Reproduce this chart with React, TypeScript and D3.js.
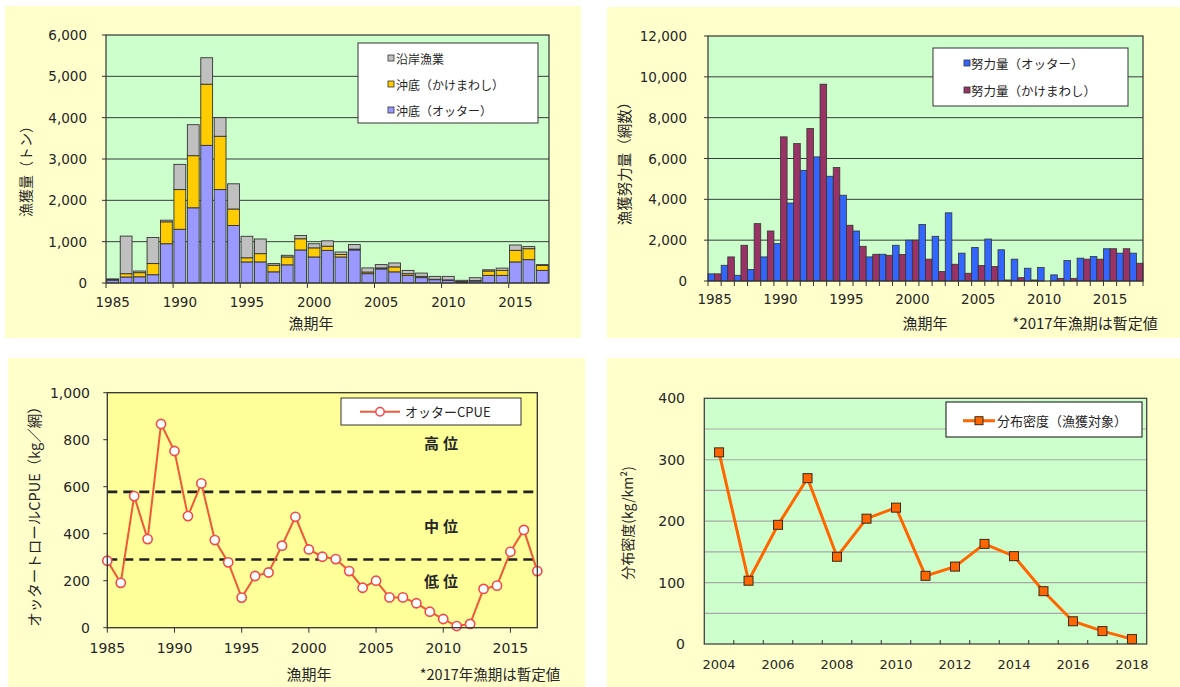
import React from 'react';
import * as d3 from 'd3';

const FONT = "'DejaVu Sans', 'Noto Sans CJK JP', sans-serif";
const JP = "'Noto Sans CJK JP', sans-serif";
const INK = '#262626';

// 漁獲量 (トン), 1985–2017 漁期年
const catchYears = [
  1985, 1986, 1987, 1988, 1989, 1990, 1991, 1992, 1993, 1994, 1995,
  1996, 1997, 1998, 1999, 2000, 2001, 2002, 2003, 2004, 2005, 2006,
  2007, 2008, 2009, 2010, 2011, 2012, 2013, 2014, 2015, 2016, 2017,
];
const catchOtter = [
  70, 145, 150, 200, 950, 1300, 1820, 3330, 2260, 1390, 510,
  510, 270, 440, 800, 630, 790, 630, 800, 225, 340, 270,
  185, 130, 80, 65, 25, 48, 185, 185, 510, 565, 305,
];
const catchKake = [
  10, 80, 100, 270, 530, 960, 1260, 1480, 1290, 400, 100,
  200, 160, 190, 270, 220, 100, 60, 20, 40, 25, 120,
  40, 30, 10, 10, 10, 10, 105, 120, 280, 265, 120,
];
const catchCoastal = [
  20, 910, 40, 630, 40, 610, 750, 640, 450, 610, 520,
  355, 40, 40, 80, 100, 130, 60, 110, 100, 80, 95,
  80, 80, 70, 85, 30, 70, 30, 55, 130, 55, 20,
];
const catchTicks = [0, 1000, 2000, 3000, 4000, 5000, 6000];
const catchLegend = ['沿岸漁業', '沖底（かけまわし）', '沖底（オッター）'];

// 漁獲努力量 (網数)
const effortOtter = [
  350, 770, 280, 560, 1180, 1830, 3820, 5420, 6080, 5130, 4200,
  2450, 1180, 1310, 1750, 2000, 2770, 2190, 3340, 1365, 1645, 2055,
  1530, 1070, 625, 660, 300, 1000, 1120, 1200, 1580, 1365, 1365,
];
const effortKake = [
  350, 1180, 1750, 2810, 2450, 7060, 6730, 7470, 9640, 5560, 2730,
  1700, 1310, 1260, 1300, 2000, 1070, 460, 820, 380, 757, 707,
  50, 165, 50, 0, 130, 130, 1070, 1070, 1580, 1580, 870,
];
const effortTicks = [0, 2000, 4000, 6000, 8000, 10000, 12000];
const effortLegend = ['努力量（オッター）', '努力量（かけまわし）'];

// オッタートロール CPUE (kg/網)
const cpue = [
  285, 191, 560, 377, 867, 752, 475, 614, 373, 278, 128,
  220, 235, 349, 472, 333, 302, 292, 241, 170, 200, 129,
  129, 104, 68, 37, 7, 16, 165, 179, 323, 416, 241,
];
const cpueTicks = [0, 200, 400, 600, 800, 1000];
const cpueLevels = [290, 578];
const levelLabels = [
  { name: '高位', value: 790 },
  { name: '中位', value: 435 },
  { name: '低位', value: 200 },
];

// 分布密度 (kg/km²)
const densityYears = [
  2004, 2005, 2006, 2007, 2008, 2009, 2010, 2011,
  2012, 2013, 2014, 2015, 2016, 2017, 2018,
];
const density = [312, 103, 194, 270, 142, 204, 222, 111, 126, 163, 143, 86, 37, 21, 8];
const densityTicks = [0, 100, 200, 300, 400];
const densityGrid = [50, 100, 150, 200, 250, 300, 350];

const yearLabels = [1985, 1990, 1995, 2000, 2005, 2010, 2015];
const fmt = d3.format(',');

function CatchPanel() {
  const L = 106, R = 549, T = 35, B = 283;
  const x = d3.scaleBand<number>().domain(catchYears).range([L, R]);
  const y = d3.scaleLinear().domain([0, 6000]).range([B, T]);
  const rows = catchYears.map((yr, i) => ({
    year: yr, otter: catchOtter[i], kake: catchKake[i], coastal: catchCoastal[i],
  }));
  const keys = ['otter', 'kake', 'coastal'];
  const colors: Record<string, string> = { otter: '#9999ff', kake: '#ffcc00', coastal: '#c0c0c0' };
  const series = d3.stack<any>().keys(keys)(rows);
  const inset = x.bandwidth() * 0.06;
  const legendColors = [colors.coastal, colors.kake, colors.otter];
  return (
    <g>
      <rect x={5} y={6} width={576} height={332} fill="#ffffcc" />
      <rect x={L} y={T} width={R - L} height={B - T} fill="#ccffcc" />
      {catchTicks.slice(1, -1).map((t) => (
        <line key={t} x1={L} x2={R} y1={y(t)} y2={y(t)} stroke="#3a3a3a" strokeWidth={1} />
      ))}
      {series.map((s) => (
        <g key={s.key}>
          {s.map((d: any, i: number) => (
            <rect
              key={i}
              x={x(d.data.year)! + inset}
              width={x.bandwidth() - 2 * inset}
              y={y(d[1])}
              height={Math.max(0, y(d[0]) - y(d[1]))}
              fill={colors[s.key]}
              stroke="#333"
              strokeWidth={0.9}
            />
          ))}
        </g>
      ))}
      <rect x={L} y={T} width={R - L} height={B - T} fill="none" stroke="#333" strokeWidth={1.2} />
      {catchTicks.map((t) => (
        <g key={t}>
          <line x1={L - 4} x2={L} y1={y(t)} y2={y(t)} stroke="#333" />
          <text x={87} y={y(t)} textAnchor="end" dominantBaseline="central" fontSize={13.5} fontFamily={FONT} fill={INK}>
            {fmt(t)}
          </text>
        </g>
      ))}
      {yearLabels.map((yr) => (
        <g key={yr}>
          <line x1={x(yr)!} x2={x(yr)!} y1={B} y2={B + 5} stroke="#333" />
          <text x={x(yr)! + x.bandwidth() / 2} y={302} textAnchor="middle" dominantBaseline="central" fontSize={13.5} fontFamily={FONT} fill={INK}>
            {yr}
          </text>
        </g>
      ))}
      <text transform={`translate(25,168) rotate(-90)`} textAnchor="middle" dominantBaseline="central" fontSize={14} fontFamily={JP} fill={INK}>
        漁獲量（トン）
      </text>
      <text x={311} y={322} textAnchor="middle" dominantBaseline="central" fontSize={15} fontFamily={JP} fill={INK}>
        漁期年
      </text>
      <rect x={358} y={43} width={180} height={80} fill="#fff" stroke="#333" strokeWidth={1} />
      {catchLegend.map((name, i) => {
        const ly = [58, 84, 110][i];
        return (
          <g key={name}>
            <rect x={388} y={ly - 3} width={6} height={6} fill={legendColors[i]} stroke="#333" strokeWidth={0.8} />
            <text x={396} y={ly} dominantBaseline="central" fontSize={12} fontFamily={JP} fill={INK}>
              {name}
            </text>
          </g>
        );
      })}
    </g>
  );
}

function EffortPanel() {
  const L = 708, R = 1143, T = 36, B = 281;
  const x = d3.scaleBand<number>().domain(catchYears).range([L, R]);
  const sub = d3.scaleBand<string>().domain(['otter', 'kake']).range([0, x.bandwidth()]);
  const y = d3.scaleLinear().domain([0, 12000]).range([B, T]);
  const cols = { otter: '#3366ff', kake: '#993366' };
  return (
    <g>
      <rect x={607} y={7} width={573} height={331} fill="#ffffcc" />
      <rect x={L} y={T} width={R - L} height={B - T} fill="#ccffcc" />
      {effortTicks.slice(1, -1).map((t) => (
        <line key={t} x1={L} x2={R} y1={y(t)} y2={y(t)} stroke="#3a3a3a" strokeWidth={1} />
      ))}
      {catchYears.map((yr, i) => (
        <g key={yr}>
          <rect x={x(yr)! + sub('otter')!} width={sub.bandwidth()} y={y(effortOtter[i])}
            height={B - y(effortOtter[i])} fill={cols.otter} stroke="#333" strokeWidth={0.8} />
          <rect x={x(yr)! + sub('kake')!} width={sub.bandwidth()} y={y(effortKake[i])}
            height={B - y(effortKake[i])} fill={cols.kake} stroke="#333" strokeWidth={0.8} />
        </g>
      ))}
      <rect x={L} y={T} width={R - L} height={B - T} fill="none" stroke="#333" strokeWidth={1.2} />
      {catchYears.map((yr) => (
        <line key={yr} x1={x(yr)!} x2={x(yr)!} y1={B} y2={B + 5} stroke="#333" />
      ))}
      <line x1={R} x2={R} y1={B} y2={B + 5} stroke="#333" />
      {effortTicks.map((t) => (
        <g key={t}>
          <line x1={L - 4} x2={L} y1={y(t)} y2={y(t)} stroke="#333" />
          <text x={687} y={y(t)} textAnchor="end" dominantBaseline="central" fontSize={13.5} fontFamily={FONT} fill={INK}>
            {fmt(t)}
          </text>
        </g>
      ))}
      {yearLabels.map((yr) => (
        <text key={yr} x={x(yr)! + x.bandwidth() / 2} y={299} textAnchor="middle" dominantBaseline="central" fontSize={13.5} fontFamily={FONT} fill={INK}>
          {yr}
        </text>
      ))}
      <text transform={`translate(623,160) rotate(-90)`} textAnchor="middle" dominantBaseline="central" fontSize={14.5} fontFamily={JP} fill={INK}>
        漁獲努力量（網数）
      </text>
      <text x={925} y={322} textAnchor="middle" dominantBaseline="central" fontSize={15} fontFamily={JP} fill={INK}>
        漁期年
      </text>
      <text x={1085} y={322} textAnchor="middle" dominantBaseline="central" fontSize={15} fontFamily={JP} fill={INK}>
        *2017年漁期は暫定値
      </text>
      <rect x={933} y={48} width={195} height={58} fill="#fff" stroke="#333" strokeWidth={1} />
      {effortLegend.map((name, i) => {
        const ly = [63, 90][i];
        return (
          <g key={name}>
            <rect x={964} y={ly - 3} width={6} height={6} fill={i === 0 ? cols.otter : cols.kake} stroke="#333" strokeWidth={0.8} />
            <text x={971} y={ly} dominantBaseline="central" fontSize={12.5} fontFamily={JP} fill={INK}>
              {name}
            </text>
          </g>
        );
      })}
    </g>
  );
}

function CpuePanel() {
  const L = 107.3, R = 537.3, T = 392.7, B = 627.7;
  const x = d3.scaleLinear().domain([1985, 2017]).range([L, R]);
  const y = d3.scaleLinear().domain([0, 1000]).range([B, T]);
  const line = d3.line<number>().x((_, i) => x(catchYears[i])).y((d) => y(d));
  const red = '#f0583a';
  return (
    <g>
      <rect x={8} y={358} width={577} height={329} fill="#ffffcc" />
      <rect x={L} y={T} width={R - L} height={B - T} fill="#ffff99" />
      {cpueLevels.map((v) => (
        <line key={v} x1={L} x2={R} y1={y(v)} y2={y(v)} stroke="#222" strokeWidth={2.6} strokeDasharray="10,6" />
      ))}
      {levelLabels.map((l) => (
        <text key={l.name} x={443} y={y(l.value)} textAnchor="middle" dominantBaseline="central" fontSize={15} fontWeight="bold" letterSpacing={4} fontFamily={JP} fill={INK}>
          {l.name}
        </text>
      ))}
      <path d={line(cpue)!} fill="none" stroke={red} strokeWidth={2} />
      {cpue.map((v, i) => (
        <circle key={i} cx={x(catchYears[i])} cy={y(v)} r={4.6} fill="#fff" stroke="#f04a4a" strokeWidth={1.6} />
      ))}
      <rect x={L} y={T} width={R - L} height={B - T} fill="none" stroke="#333" strokeWidth={1.3} />
      {cpueTicks.map((t) => (
        <g key={t}>
          <line x1={L - 4} x2={L} y1={y(t)} y2={y(t)} stroke="#333" />
          <text x={90} y={y(t)} textAnchor="end" dominantBaseline="central" fontSize={14} fontFamily={FONT} fill={INK}>
            {fmt(t)}
          </text>
        </g>
      ))}
      {yearLabels.map((yr) => (
        <g key={yr}>
          <line x1={x(yr)} x2={x(yr)} y1={B} y2={B + 5} stroke="#333" />
          <text x={x(yr)} y={648} textAnchor="middle" dominantBaseline="central" fontSize={14} fontFamily={FONT} fill={INK}>
            {yr}
          </text>
        </g>
      ))}
      <text transform={`translate(33,513) rotate(-90)`} textAnchor="middle" dominantBaseline="central" fontSize={14.5} fontFamily={JP} fill={INK}>
        オッタートロールCPUE（kg／網）
      </text>
      <text x={309} y={673} textAnchor="middle" dominantBaseline="central" fontSize={15} fontFamily={JP} fill={INK}>
        漁期年
      </text>
      <text x={490} y={673} textAnchor="middle" dominantBaseline="central" fontSize={14.5} fontFamily={JP} fill={INK}>
        *2017年漁期は暫定値
      </text>
      <rect x={341} y={398} width={180} height={27} fill="#fff" stroke="#333" strokeWidth={1} />
      <line x1={360} x2={400} y1={411.7} y2={411.7} stroke={red} strokeWidth={2} />
      <circle cx={380} cy={411.7} r={4.2} fill="#fff" stroke="#f04a4a" strokeWidth={1.5} />
      <text x={405} y={411.7} dominantBaseline="central" fontSize={13} fontFamily={JP} fill={INK}>
        オッターCPUE
      </text>
    </g>
  );
}

function DensityPanel() {
  const L = 704.3, R = 1146.7, T = 398.3, B = 644;
  const x = d3.scaleBand<number>().domain(densityYears).range([L, R]);
  const y = d3.scaleLinear().domain([0, 400]).range([B, T]);
  const cx = (yr: number) => x(yr)! + x.bandwidth() / 2;
  const line = d3.line<number>().x((_, i) => cx(densityYears[i])).y((d) => y(d));
  const orange = '#ff6600';
  return (
    <g>
      <rect x={607} y={358} width={573} height={329} fill="#ffffcc" />
      <rect x={L} y={T} width={R - L} height={B - T} fill="#ccffcc" />
      {densityGrid.map((t) => (
        <line key={t} x1={L} x2={R} y1={y(t)} y2={y(t)} stroke="#a8a8a8" strokeWidth={1.2} />
      ))}
      <path d={line(density)!} fill="none" stroke={orange} strokeWidth={3} />
      {density.map((v, i) => (
        <rect key={i} x={cx(densityYears[i]) - 4.5} y={y(v) - 4.5} width={9} height={9} fill={orange} stroke="#3a2a1a" strokeWidth={1} />
      ))}
      <rect x={L} y={T} width={R - L} height={B - T} fill="none" stroke="#444" strokeWidth={1.3} />
      {densityYears.slice(1).map((yr) => (
        <line key={yr} x1={x(yr)!} x2={x(yr)!} y1={B} y2={B - 4} stroke="#333" />
      ))}
      {densityTicks.map((t) => (
        <text key={t} x={685} y={y(t)} textAnchor="end" dominantBaseline="central" fontSize={14} fontFamily={FONT} fill={INK}>
          {t}
        </text>
      ))}
      {densityYears.filter((yr) => yr % 2 === 0).map((yr) => (
        <text key={yr} x={cx(yr)} y={664} textAnchor="middle" dominantBaseline="central" fontSize={13} fontFamily={FONT} fill={INK}>
          {yr}
        </text>
      ))}
      <text transform={`translate(627,523) rotate(-90)`} textAnchor="middle" dominantBaseline="central" fontSize={14} fontFamily={JP} fill={INK}>
        分布密度(kg/km²)
      </text>
      <rect x={946} y={402} width={196} height={35} fill="#fff" stroke="#333" strokeWidth={1.2} />
      <line x1={963} x2={995} y1={420.7} y2={420.7} stroke={orange} strokeWidth={3} />
      <rect x={975} y={416.7} width={8} height={8} fill={orange} stroke="#3a2a1a" strokeWidth={1} />
      <text x={997} y={420.7} dominantBaseline="central" fontSize={13} fontFamily={JP} fill={INK}>
        分布密度（漁獲対象）
      </text>
    </g>
  );
}

export default function App() {
  return (
    <svg
      width={1180}
      height={687}
      viewBox="0 0 1180 687"
      style={{ position: 'absolute', left: 0, top: 0, background: '#fff' }}
    >
      <CatchPanel />
      <EffortPanel />
      <CpuePanel />
      <DensityPanel />
    </svg>
  );
}
